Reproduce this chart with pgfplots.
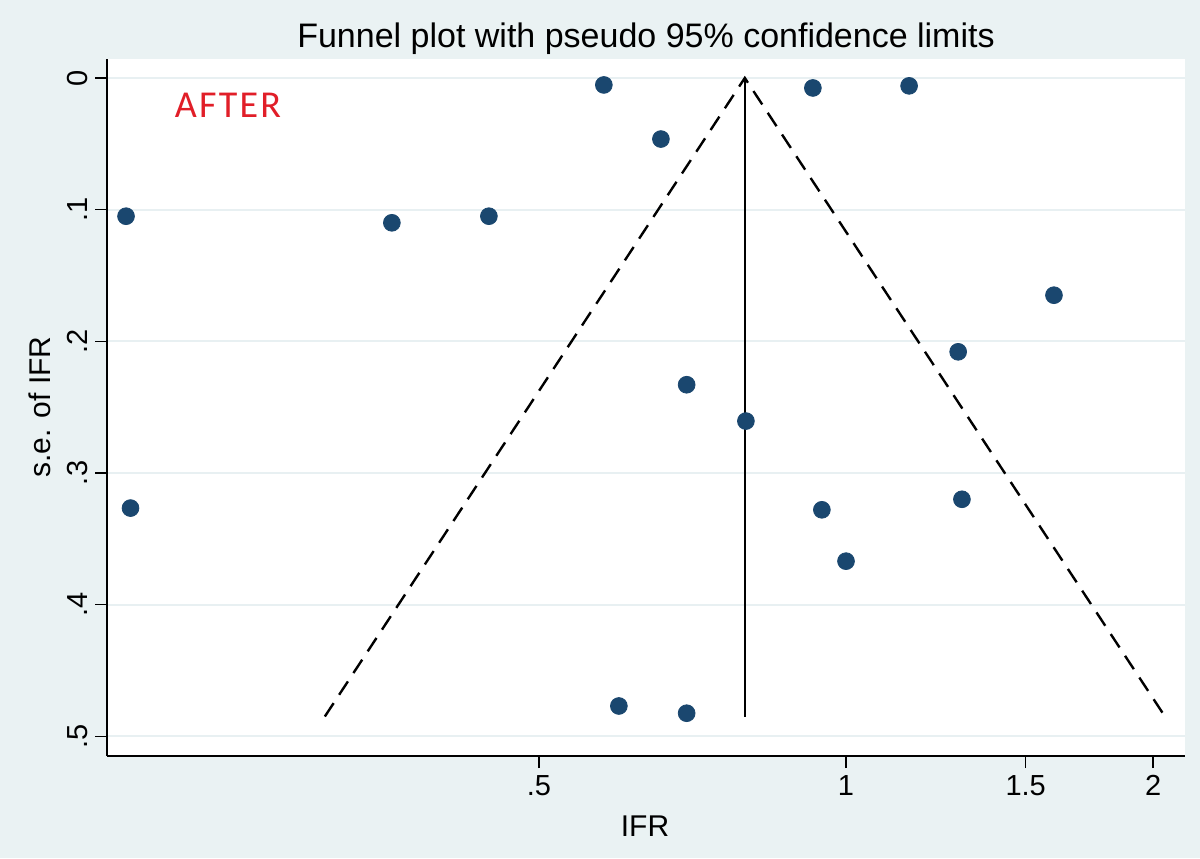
\documentclass[border=0pt]{standalone}
\usepackage{pgfplots}
\pgfplotsset{compat=1.18}
\usepackage{fontspec}
\setmainfont{Liberation Sans}
\newfontfamily\afterfont[LetterSpace=6]{Carlito}
\definecolor{stbg}{RGB}{234,242,243}
\definecolor{stgrid}{RGB}{232,240,242}
\definecolor{stnavy}{RGB}{26,71,111}
\definecolor{afterred}{RGB}{225,30,40}
\begin{document}
\begin{tikzpicture}[x=1pt,y=1pt]
\fill[stbg] (0,0) rectangle (600,429);
\begin{axis}[
  at={(53.5pt,51pt)}, anchor=south west,
  scale only axis, width=539pt, height=348.5pt,
  xmode=log, xmin=0.1887, xmax=2.149,
  ymin=-0.0144, ymax=0.515, y dir=reverse,
  axis background/.style={fill=white},
  axis x line*=bottom, axis y line*=left,
  axis line style={-, black, line width=0.7pt},
  tick align=outside, major tick length=6pt,
  tick style={black, line width=0.7pt},
  xtick={0.5,1,1.5,2}, xticklabels={.5,1,1.5,2}, minor xtick={},
  ytick={0,0.1,0.2,0.3,0.4,0.5}, yticklabels={0,.1,.2,.3,.4,.5},
  yticklabel style={rotate=90, anchor=south},
  ticklabel style={font=\fontsize{14.5}{16}\selectfont},
  /pgf/number format/assume math mode=true,
  ymajorgrids, grid style={stgrid, line width=1pt},
  clip=false,
]
\addplot[black, line width=1.2pt, dash pattern=on 8pt off 5pt] coordinates {(0.3085,0.485) (0.796,0) (2.054,0.485)};
\addplot[black, line width=1.1pt] coordinates {(0.796,0) (0.796,0.485)};
\addplot[only marks, mark=*, mark size=4.2pt, mark options={fill=stnavy, draw=stnavy}] table {
x y
0.579 0.0053
0.928 0.0076
1.153 0.006
0.6586 0.0464
0.197 0.105
0.3589 0.110
0.4467 0.105
1.599 0.165
1.288 0.208
0.698 0.233
0.798 0.2606
0.199 0.3267
1.299 0.320
0.947 0.328
1.0 0.367
0.599 0.477
0.698 0.4825
};
\end{axis}
\node[anchor=base, font=\fontsize{17}{20}\selectfont] at (323,405) {Funnel plot with pseudo 95\% confidence limits};
\node[anchor=base, font=\fontsize{15}{17}\selectfont] at (322.5,11) {IFR};
\node[anchor=base, rotate=90, font=\fontsize{15}{17}\selectfont] at (25,225.5) {s.e. of IFR};
\node[text=afterred, font=\afterfont\fontsize{19}{22}\selectfont] at (114,376.5) {AFTER};
\end{tikzpicture}
\end{document}
